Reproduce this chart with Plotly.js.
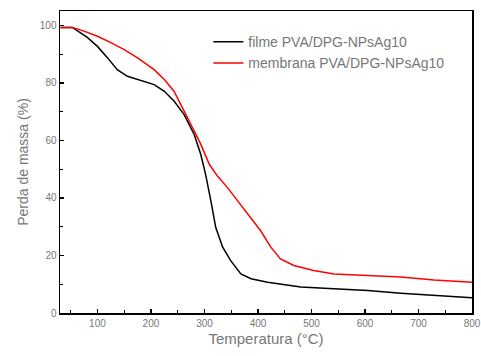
<!DOCTYPE html>
<html><head><meta charset="utf-8">
<script src="https://cdn.plot.ly/plotly-3.0.1.min.js"></script>
<style>html,body{margin:0;padding:0;background:#fff}</style>
</head><body><div id="chart" style="width:481px;height:356px"></div>
<script>
const filmeT = [31,53,81,100,119,137,156,181,206,225,243,262,281,293,302,312,321,334,349,368,387,418,449,480,542,605,667,729,800];
const filmeM = [99.3,99.3,95.8,92.7,88.7,84.6,82.3,80.9,79.4,77.1,73.7,69,62,55.2,48.3,39,29.8,22.9,18.2,13.6,11.9,10.7,9.9,9,8.4,7.8,6.9,6.1,5.3];
const membT = [31,53,75,100,125,150,175,206,225,243,262,281,293,309,324,343,362,387,405,424,442,467,504,542,605,667,729,800];
const membM = [99.3,99.3,98.0,96.2,94,91.6,88.7,84.6,81.2,77.1,70.2,63.3,58.7,51.7,47.7,43.6,39,33.3,28.6,22.9,18.8,16.5,14.8,13.6,13,12.5,11.5,10.7];
const seriesNames = ['filme PVA/DPG-NPsAg10','membrana PVA/DPG-NPsAg10'];

const traces = [
  {x: filmeT, y: filmeM, name: seriesNames[0], mode:'lines', line:{color:'#000', width:1.5}},
  {x: membT, y: membM, name: seriesNames[1], mode:'lines', line:{color:'#ff0000', width:1.5}}
];
const fam = 'Liberation Sans, Arial, sans-serif';
const tickFont = {family:fam, size:10, color:'#777'};
const layout = {
  width:481, height:356,
  margin:{l:60, r:9, t:11, b:43},
  paper_bgcolor:'#fff', plot_bgcolor:'#fff',
  showlegend:true,
  legend:{x:0.36, y:0.95, xanchor:'left', yanchor:'top', bgcolor:'rgba(0,0,0,0)',
    font:{family:fam, size:14, color:'#777'}, tracegroupgap:0},
  xaxis:{range:[30,800], tickmode:'linear', tick0:0, dtick:100, ticks:'inside', ticklen:4, tickwidth:1.2,
    tickcolor:'#000', showline:true, linecolor:'#000', linewidth:1.5, mirror:true, showgrid:false, zeroline:false,
    minor:{ticks:'inside', dtick:50, tick0:0, ticklen:3, tickcolor:'#000', showgrid:false},
    tickfont:tickFont,
    title:{text:'Temperatura (°C)', standoff:6, font:{family:fam, size:15, color:'#777'}}},
  yaxis:{range:[0,105], tickmode:'linear', tick0:0, dtick:20, ticks:'inside', ticklen:4, tickwidth:1.2,
    tickcolor:'#000', showline:true, linecolor:'#000', linewidth:1.5, mirror:true, showgrid:false, zeroline:false,
    minor:{ticks:'inside', dtick:10, tick0:0, ticklen:3, tickcolor:'#000', showgrid:false},
    tickfont:tickFont,
    title:{text:'Perda de massa (%)', standoff:8, font:{family:fam, size:14, color:'#777'}}}
};
Plotly.newPlot('chart', traces, layout, {displayModeBar:false, staticPlot:true});
</script></body></html>
